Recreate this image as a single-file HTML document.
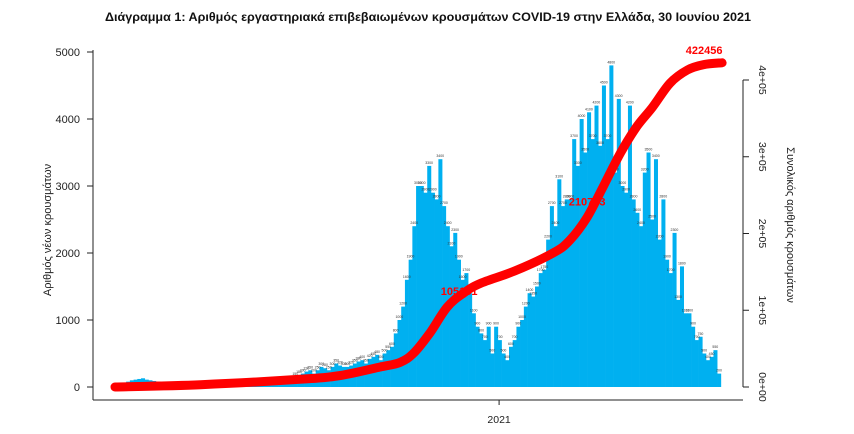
<!DOCTYPE html>
<html><head><meta charset="utf-8">
<style>
html,body{margin:0;padding:0;background:#fff;}
svg{display:block;font-family:"Liberation Sans",sans-serif;}
</style></head>
<body>
<svg id="chart" width="854" height="434" viewBox="0 0 854 434" xmlns="http://www.w3.org/2000/svg">
<text x="428" y="21" text-anchor="middle" font-size="11.5" font-weight="bold" fill="#111" textLength="646" lengthAdjust="spacingAndGlyphs">Διάγραμμα 1: Αριθμός εργαστηριακά επιβεβαιωμένων κρουσμάτων COVID-19 στην Ελλάδα, 30 Ιουνίου 2021</text>
<g id="bars"></g>
<g id="labels"></g>
<g id="cum"></g>
<g id="axes"></g>
<text transform="translate(51,230) rotate(-90)" text-anchor="middle" font-size="11" fill="#222">Αριθμός νέων κρουσμάτων</text>
<text transform="translate(787,225) rotate(90)" text-anchor="middle" font-size="11" fill="#222">Συνολικός αριθμός κρουσμάτων</text>
</svg>
<script>
// daily new cases, 3-day bins starting 26 Feb 2020
const binDays = 3;
const caseValues = [10,30,60,80,100,110,120,130,110,100,90,70,60,50,40,30,25,20,20,15,12,10,10,
20,20,20,20,25,25,25,30,30,30,30,35,35,35,40,40,40,40,45,45,50,50,
60,80,100,150,180,
200,230,250,200,250,300,280,250,300,350,320,300,
300,320,350,380,400,350,420,450,480,400,500,550,600,
800,1000,1200,1600,1900,2400,3000,3000,2900,3300,2900,2800,3400,2700,2400,2100,2300,1900,1600,1700,1400,1100,900,800,700,900,500,900,700,500,400,600,700,900,1000,1200,1400,1350,1500,1700,1750,2200,2700,2400,3100,2700,2800,2800,3700,3300,4000,3500,4100,3700,4200,3600,4500,3700,4800,3200,4300,3000,2900,4200,2800,2600,2400,3200,3500,2500,3400,2200,2800,1900,1700,2300,1300,1800,1100,1100,900,700,750,500,400,450,550,200];
// cumulative cases: day index since 26 Feb 2020 and totals
const cumDays = [0,69,149,182,214,230,241,254,268,281,295,324,354,367,381,394,408,421,434,448,462,475,490];
const cumValues = [0,3000,10000,15000,26000,32000,44000,70000,104000,122000,135000,152000,175000,191000,221000,261000,305000,339000,365000,396000,413000,420000,422456];
const leftTicks = [0,1000,2000,3000,4000,5000];
const rightTicks = [0,100000,200000,300000,400000];
const rightTickLabels = ["0e+00","1e+05","2e+05","3e+05","4e+05"];
const cumLabelIdx = [8,14,22];
const cumLabelText = ["105181","210733","422456"];
const xTickDays = [310];
const xTickLabels = ["2021"];

const NS="http://www.w3.org/2000/svg";
const xDay = d => 115 + d*1.239;
const yL = v => 387 - v*0.067;
const yR = v => 387 - v*0.0007675;
function mk(tag, attrs, parent){const e=document.createElementNS(NS,tag);for(const k in attrs)e.setAttribute(k,attrs[k]);parent.appendChild(e);return e;}

const bars=document.getElementById('bars'), labels=document.getElementById('labels');
caseValues.forEach((v,i)=>{
  const x0=xDay(i*binDays), x1=xDay((i+1)*binDays);
  const r=mk('rect',{x:x0.toFixed(2),y:yL(v).toFixed(2),width:(x1-x0+0.3).toFixed(2),height:(387-yL(v)).toFixed(2),fill:'#00b0f0'},bars);
  
  
  if(v>=150){
    const t=mk('text',{x:((x0+x1)/2).toFixed(2),y:(yL(v)-2).toFixed(2),'font-size':'3.5','text-anchor':'middle',fill:'#333'},labels);
    
    
    t.textContent=String(v);
  }
});

const cum=document.getElementById('cum');
const P=cumDays.map((d,i)=>[xDay(d),yR(cumValues[i])]);
let dStr='M'+P[0][0].toFixed(1)+','+P[0][1].toFixed(1);
for(let i=0;i<P.length-1;i++){
  const p0=P[Math.max(0,i-1)],p1=P[i],p2=P[i+1],p3=P[Math.min(P.length-1,i+2)];
  const c1=[p1[0]+(p2[0]-p0[0])/6,p1[1]+(p2[1]-p0[1])/6];
  const c2=[p2[0]-(p3[0]-p1[0])/6,p2[1]-(p3[1]-p1[1])/6];
  dStr+=' C'+c1[0].toFixed(1)+','+c1[1].toFixed(1)+' '+c2[0].toFixed(1)+','+c2[1].toFixed(1)+' '+p2[0].toFixed(1)+','+p2[1].toFixed(1);
}
const pl=mk('path',{d:dStr,fill:'none',stroke:'#ff0000','stroke-width':'9','stroke-linecap':'round','stroke-linejoin':'round'},cum);


cumLabelIdx.forEach((idx,k)=>{
  const x=xDay(cumDays[idx]), y=yR(cumValues[idx]);
  const dx = k===2 ? -18 : (k===0 ? 12 : 0);
  const dy = k===2 ? -9 : -12;
  const t=mk('text',{x:(x+dx).toFixed(1),y:(y+dy).toFixed(1),'text-anchor':'middle','font-size':'11','font-weight':'bold',fill:'#ff0000'},cum);
  
  
  t.textContent=cumLabelText[k];
});

const axes=document.getElementById('axes');
let e=mk('line',{x1:93,y1:50,x2:93,y2:400,stroke:'#222','stroke-width':1},axes);

e=mk('line',{x1:93,y1:400,x2:743,y2:400,stroke:'#222','stroke-width':1},axes);

e=mk('line',{x1:743,y1:yR(400000),x2:743,y2:387,stroke:'#222','stroke-width':1},axes);

leftTicks.forEach(v=>{
  const y=yL(v);
  const l=mk('line',{x1:87,y1:y,x2:93,y2:y,stroke:'#222'},axes);
  
  
  const t=mk('text',{x:80,y:y+4,'text-anchor':'end','font-size':'11',fill:'#222'},axes);
  
  
  t.textContent=String(v);
});
rightTicks.forEach((v,i)=>{
  const y=yR(v);
  const l=mk('line',{x1:743,y1:y,x2:749,y2:y,stroke:'#222'},axes);
  
  
  const t=mk('text',{transform:'translate(759,'+y.toFixed(1)+') rotate(90)','text-anchor':'middle','font-size':'10.5',fill:'#222'},axes);
  
  
  t.textContent=rightTickLabels[i];
});
xTickDays.forEach((d,i)=>{
  const x=xDay(d);
  const l=mk('line',{x1:x,y1:400,x2:x,y2:405,stroke:'#222'},axes);
  
  
  const t=mk('text',{x:x,y:423,'text-anchor':'middle','font-size':'10.5',fill:'#222'},axes);
  
  
  t.textContent=xTickLabels[i];
});
</script>
</body></html>
